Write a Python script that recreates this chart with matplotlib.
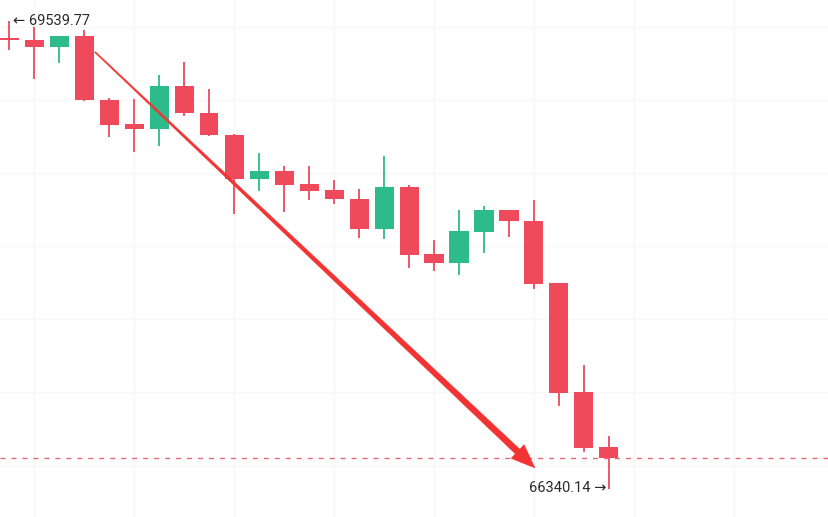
import matplotlib
matplotlib.use("Agg")
import matplotlib.pyplot as plt
from matplotlib.patches import Polygon
from matplotlib.transforms import IdentityTransform
import numpy as np

# ---- data ----
opens  = [69416.7, 69409.9, 69360.0, 69437.2, 69000.0, 68833.5, 68799.4, 69095.4, 68912.8, 68760.4,
          68457.5, 68516.3, 68423.3, 68382.3, 68324.9, 68115.7, 68406.9, 67944.8, 67883.2, 68099.2,
          68247.6, 68174.5, 67746.5, 67001.3, 66629.3]
closes = [69409.9, 69360.0, 69437.2, 68999.7, 68828.7, 68799.4, 69095.4, 68908.7, 68758.3, 68457.5,
          68516.3, 68416.5, 68377.5, 68320.8, 68115.7, 68402.8, 67939.9, 67883.2, 68104.0, 68247.6,
          68170.3, 67741.7, 66998.5, 66622.5, 66550.0]
highs  = [69539.77, 69500.8, 69440.0, 69478.2, 69013.3, 69004.4, 69170.6, 69261.5, 69072.8, 68767.0,
          68635.3, 68548.4, 68548.4, 68452.7, 68391.2, 68618.9, 68416.0, 68042.5, 68247.6, 68275.0,
          68250.0, 68316.0, 67748.0, 67187.9, 66704.5]
lows   = [69341.5, 69141.2, 69250.6, 68995.0, 68746.7, 68646.2, 68685.1, 68890.3, 68755.0, 68218.2,
          68377.5, 68236.0, 68316.0, 68286.6, 68054.1, 68047.3, 67849.0, 67832.6, 67803.2, 67951.6,
          68061.0, 67705.4, 66909.6, 66595.1, 66340.14]
max_label = "69539.77"
min_label = "66340.14"
arrow_start = (3.44, 69327.8)
arrow_end = (21.04, 66483.7)

UP = "#2dbb8c"
DOWN = "#ee4a5b"

fig = plt.figure(figsize=(8.29, 5.17), dpi=100)
ax = fig.add_axes([0, 0, 1, 1])
ax.set_xlim(-0.36, 32.8)
ax.set_ylim(66148.6, 69683.3)
for s in ax.spines.values():
    s.set_visible(False)
ax.set_xticks([])
ax.set_yticks([])

# faint grid
for gy in np.arange(66500, 70000, 500):
    ax.axhline(gy, color="#f8f8f8", lw=1.0, zorder=0)
for gx in range(1, 33, 4):
    ax.axvline(gx, color="#f6f6f6", lw=1.0, zorder=0)

n = len(opens)
idx = np.arange(n)
w = 0.76
for i in idx:
    o, c, h, l = opens[i], closes[i], highs[i], lows[i]
    col = UP if c > o else DOWN
    ax.vlines(i, l, h, color=col, lw=1.3, zorder=2)
    bottom = min(o, c)
    height = max(abs(c - o), 12.0)
    ax.bar(i, height, bottom=bottom, width=w, color=col, zorder=3, linewidth=0)

# current price dashed line
last = closes[-1]
ax.axhline(last, color="#e46878", lw=1.0, dashes=(3.6, 4.3), zorder=1)

# labels
imax = int(np.argmax(highs))
imin = int(np.argmin(lows))
ax.annotate("\u2190 " + max_label, xy=(imax, highs[imax]), xytext=(3, 0), textcoords="offset points",
            ha="left", va="center", fontsize=10.5, color="#2a2a2a",
            family=["Roboto", "DejaVu Sans"], zorder=5)
ax.annotate(min_label + " \u2192", xy=(imin, lows[imin]), xytext=(-2, 1), textcoords="offset points",
            ha="right", va="center", fontsize=10.5, color="#2a2a2a",
            family=["Roboto", "DejaVu Sans"], zorder=5)

# tapered red arrow (built in display pixels from data endpoints)
fig.canvas.draw()
p0 = ax.transData.transform(arrow_start)
p1 = ax.transData.transform(arrow_end)
d = p1 - p0
L = np.hypot(*d)
u = d / L
nrm = np.array([-u[1], u[0]])
head_len, head_w = 24.0, 19.0
w0, w1 = 1.2, 6.5
base = p1 - u * head_len
pts = [p0 + nrm * w0 / 2, base + nrm * w1 / 2, base + nrm * head_w / 2, p1,
       base - nrm * head_w / 2, base - nrm * w1 / 2, p0 - nrm * w0 / 2]
poly = Polygon(pts, closed=True, transform=IdentityTransform(), facecolor="#f23333",
               edgecolor="#f23333", lw=0.3, zorder=4)
fig.add_artist(poly)

fig.savefig("out.png", dpi=100, facecolor="white")
